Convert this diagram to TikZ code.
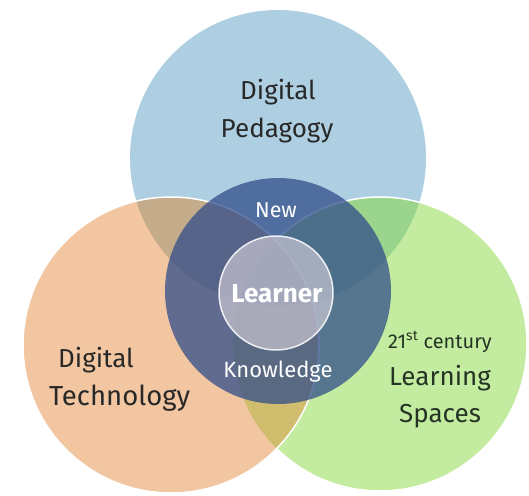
\documentclass[tikz,border=0pt]{standalone}
\usepackage{fontspec}
\setmainfont{Fira Sans}
\definecolor{cB}{RGB}{174,207,226}
\definecolor{cG}{RGB}{196,236,160}
\definecolor{cO}{RGB}{241,198,160}
\definecolor{cBG}{RGB}{155,212,140}
\definecolor{cBO}{RGB}{196,172,138}
\definecolor{cOG}{RGB}{208,190,110}
\definecolor{cBOG}{RGB}{160,160,120}
\definecolor{cD}{RGB}{48,76,138}
\definecolor{cL}{RGB}{222,214,222}
\definecolor{txt}{RGB}{40,40,40}
\definecolor{txtg}{RGB}{38,52,38}
\begin{document}
\begin{tikzpicture}[x=1pt,y=-1pt,
  edge/.style={white, line width=1.5pt},
  big/.style={inner sep=0pt, anchor=base, text=txt, font=\fontsize{26}{30}\selectfont},
  inner/.style={inner sep=0pt, anchor=base, text=white, font=\fontsize{22}{26}\selectfont}]
\useasboundingbox (0,0) rectangle (529,495);
\fill[white] (0,0) rectangle (529,495);
\coordinate (cb) at (278,158);
\coordinate (cg) at (380,344);
\coordinate (co) at (171,345);
\coordinate (cc) at (278,291);
\coordinate (cl) at (276,293);
% blue
\fill[cB] (cb) circle[radius=148pt];
% green
\fill[cG] (cg) circle[radius=147pt];
\begin{scope}
  \clip (cb) circle[radius=148pt];
  \fill[cBG] (cg) circle[radius=147pt];
\end{scope}
\draw[edge] (cg) circle[radius=147pt];
% orange
\fill[cO] (co) circle[radius=148pt];
\begin{scope}
  \clip (cb) circle[radius=148pt];
  \fill[cBO] (co) circle[radius=148pt];
\end{scope}
\begin{scope}
  \clip (cg) circle[radius=147pt];
  \fill[cOG] (co) circle[radius=148pt];
  \clip (cb) circle[radius=148pt];
  \fill[cBOG] (co) circle[radius=148pt];
\end{scope}
\draw[edge] (co) circle[radius=148pt];
% centre
\fill[cD, fill opacity=0.74] (cc) circle[radius=113pt];
\draw[white, draw opacity=0.85, line width=1.5pt, fill=cL, fill opacity=0.6] (cl) circle[radius=57pt];
% texts
\node[big] (dp1) at (278,99) {Digital};
\node[big] (dp2) at (277,137) {Pedagogy};
\node[big, anchor=base west] (dt1) at (58,367) {Digital};
\node[big, anchor=base west, font=\fontsize{27.5}{30}\selectfont] (dt2) at (49,405) {Technology};
\node[big, text=txtg, font=\fontsize{20}{22}\selectfont] (ls0) at (440,348) {21\textsuperscript{st} century};
\node[big, text=txtg] (ls1) at (440,385) {Learning};
\node[big, text=txtg] (ls2) at (440,422) {Spaces};
\node[inner, font=\fontsize{21.5}{24}\selectfont] (nw) at (276,217) {New};
\node[inner] (kn) at (278,377) {Knowledge};
\node[inner, font=\fontsize{26}{30}\selectfont\bfseries] (lr) at (277,302) {Learner};
\end{tikzpicture}
\end{document}
